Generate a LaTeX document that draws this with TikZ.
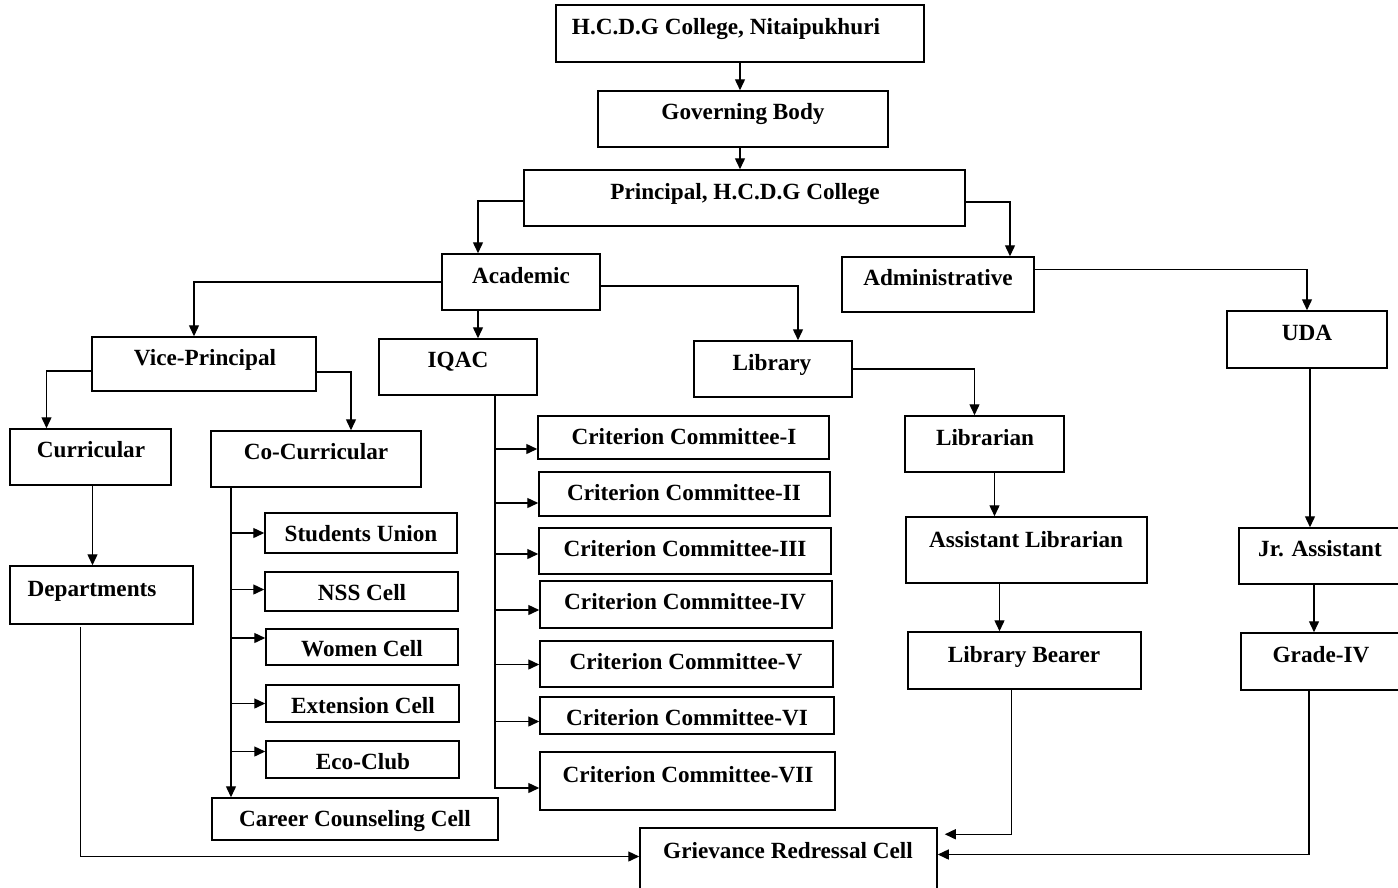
\documentclass[tikz,border=0pt]{standalone}
\usepackage{fontspec}
\setmainfont{Liberation Serif}
\usetikzlibrary{arrows.meta,fit,calc}
\newcommand{\obox}[8]{\node[box, fit={(#2,#3) (#4,#5)}] (#1) {};
  \node[txt] (#1t) at (#6,#7) {#8};}
\begin{document}
\begin{tikzpicture}[x=1pt,y=-1pt,
  box/.style={draw, line width=1.5pt, inner sep=0pt, rectangle},
  txt/.style={inner sep=0pt, text height=15pt, text depth=0pt, font=\fontsize{23.2}{26}\selectfont\bfseries},
  arr/.style={line width=1.4pt, -{Triangle[length=11pt,width=10pt]}}]
\useasboundingbox (0,0) rectangle (1398,887);
\obox{hcdg}{556}{5}{924}{62}{726}{27}{H.C.D.G College, Nitaipukhuri}
\obox{gov}{598}{91}{888}{147}{743}{112}{Governing Body}
\obox{princ}{524}{170}{965}{226}{745}{192}{Principal, H.C.D.G College}
\obox{acad}{442}{254}{600}{310}{521}{276}{Academic}
\obox{admin}{842}{257}{1034}{312}{938}{278}{Administrative}
\obox{vp}{92}{337}{316}{391}{205}{358}{Vice-Principal}
\obox{iqac}{379}{339}{537}{395}{458}{360}{IQAC}
\obox{lib}{694}{341}{852}{397}{772}{363}{Library}
\obox{uda}{1227}{311}{1387}{368}{1307}{333}{UDA}
\obox{curr}{10}{429}{171}{485}{91}{450}{Curricular}
\obox{cocurr}{211}{431}{421}{487}{316}{452}{Co-Curricular}
\obox{dept}{10}{566}{193}{624}{92}{589}{Departments}
\obox{su}{265}{513}{457}{553}{361}{534}{Students Union}
\obox{nss}{265}{572}{458}{611}{362}{593}{NSS Cell}
\obox{women}{266}{629}{458}{665}{362}{649}{Women Cell}
\obox{ext}{266}{685}{459}{722}{363}{706}{Extension Cell}
\obox{eco}{266}{741}{459}{778}{363}{762}{Eco-Club}
\obox{career}{212}{798}{498}{840}{355}{819}{Career Counseling Cell}
\obox{cca}{538}{416}{829}{459}{684}{437}{Criterion Committee-I}
\obox{ccb}{539}{472}{830}{516}{684}{493}{Criterion Committee-II}
\obox{ccc}{539}{528}{831}{574}{685}{549}{Criterion Committee-III}
\obox{ccd}{540}{581}{832}{628}{685}{602}{Criterion Committee-IV}
\obox{cce}{540}{641}{833}{687}{686}{662}{Criterion Committee-V}
\obox{ccf}{540}{697}{834}{734}{687}{718}{Criterion Committee-VI}
\obox{ccg}{540}{752}{835}{810}{688}{775}{Criterion Committee-VII}
\obox{librarian}{905}{416}{1064}{472}{985}{438}{Librarian}
\obox{asstlib}{906}{517}{1147}{583}{1026}{540}{Assistant Librarian}
\obox{bearer}{908}{632}{1141}{689}{1024}{655}{Library Bearer}
\obox{jr}{1239}{528}{1405}{584}{1320}{549}{Jr. Assistant}
\obox{gfour}{1241}{633}{1405}{690}{1321}{655}{Grade-IV}
\obox{griev}{640}{828}{937}{895}{788}{851}{Grievance Redressal Cell}
% connectors
\draw[arr] (hcdg.south) -- (hcdg.south |- gov.north);
\coordinate (p1) at ([xshift=-3pt]gov.south);
\draw[arr] (p1) -- (p1 |- princ.north);
\coordinate (a1) at ([xshift=-43pt]acad.north);
\draw[arr] ([yshift=-3pt]princ.west) -| (a1);
\coordinate (ad1) at ([xshift=72pt]admin.north);
\draw[arr] ([yshift=-4pt]princ.east) -| (ad1);
\coordinate (v1) at ([xshift=-10pt]vp.north);
\draw[arr] (acad.west) -| (v1);
\coordinate (a2) at ([xshift=-43pt]acad.south);
\draw[arr] (a2) -- (a2 |- iqac.north);
\coordinate (l1) at ([xshift=25pt]lib.north);
\draw[arr] ([yshift=-4pt]acad.east) -| (l1);
\draw[arr] ([yshift=15pt]admin.east) -| (uda.north);
\coordinate (c1) at ([xshift=-44pt]curr.north);
\draw[arr] ([yshift=-7pt]vp.west) -| (c1);
\coordinate (c2) at ([xshift=35pt]cocurr.north);
\draw[arr] ([yshift=-8pt]vp.east) -| (c2);
\coordinate (c3) at ([xshift=2pt]curr.south);
\draw[arr] (c3) -- (c3 |- dept.north);
\coordinate (cs) at ([xshift=-85pt]cocurr.south);
\draw[arr] (cs) -- (cs |- career.north);
\foreach \n/\s in {su/0,nss/2,women/9,ext/0,eco/8}{
  \coordinate (t) at ([yshift=\s pt]\n.west);
  \draw[arr] (cs |- t) -- (t);}
\coordinate (is) at ([xshift=37pt]iqac.south);
\coordinate (t7) at ([yshift=-7pt]ccg.west);
\draw[arr] (is) |- (t7);
\foreach \n/\s in {cca/-11.5,ccb/-9,ccc/-3,ccd/-5.5,cce/-0.5,ccf/-6}{
  \coordinate (t) at ([yshift=\s pt]\n.west);
  \draw[arr] (is |- t) -- (t);}
\coordinate (lb1) at ([xshift=-10pt]librarian.north);
\draw[arr] (lib.east) -| (lb1);
\coordinate (lb2) at ([xshift=10pt]librarian.south);
\draw[arr] (lb2) -- (lb2 |- asstlib.north);
\coordinate (lb3) at ([xshift=-27pt]asstlib.south);
\draw[arr] (lb3) -- (lb3 |- bearer.north);
\coordinate (lb4) at ([xshift=-13pt]bearer.south);
\coordinate (gr1) at ([xshift=7pt,yshift=-7pt]griev.north east);
\draw[arr] (lb4) |- (gr1);
\coordinate (u1) at ([xshift=3pt]uda.south);
\draw[arr] (u1) -- (u1 |- jr.north);
\coordinate (j1) at ([xshift=-8pt]jr.south);
\draw[arr] (j1) -- (j1 |- gfour.north);
\coordinate (g4a) at ([xshift=-14pt]gfour.south);
\coordinate (gr2) at ([yshift=7pt]griev.east);
\draw[arr] (g4a) |- (gr2);
\coordinate (d1) at ([xshift=-21pt,yshift=-2pt]dept.south);
\coordinate (gr3) at ([yshift=5pt]griev.west);
\draw[arr] (d1) |- (gr3);
\end{tikzpicture}
\end{document}
